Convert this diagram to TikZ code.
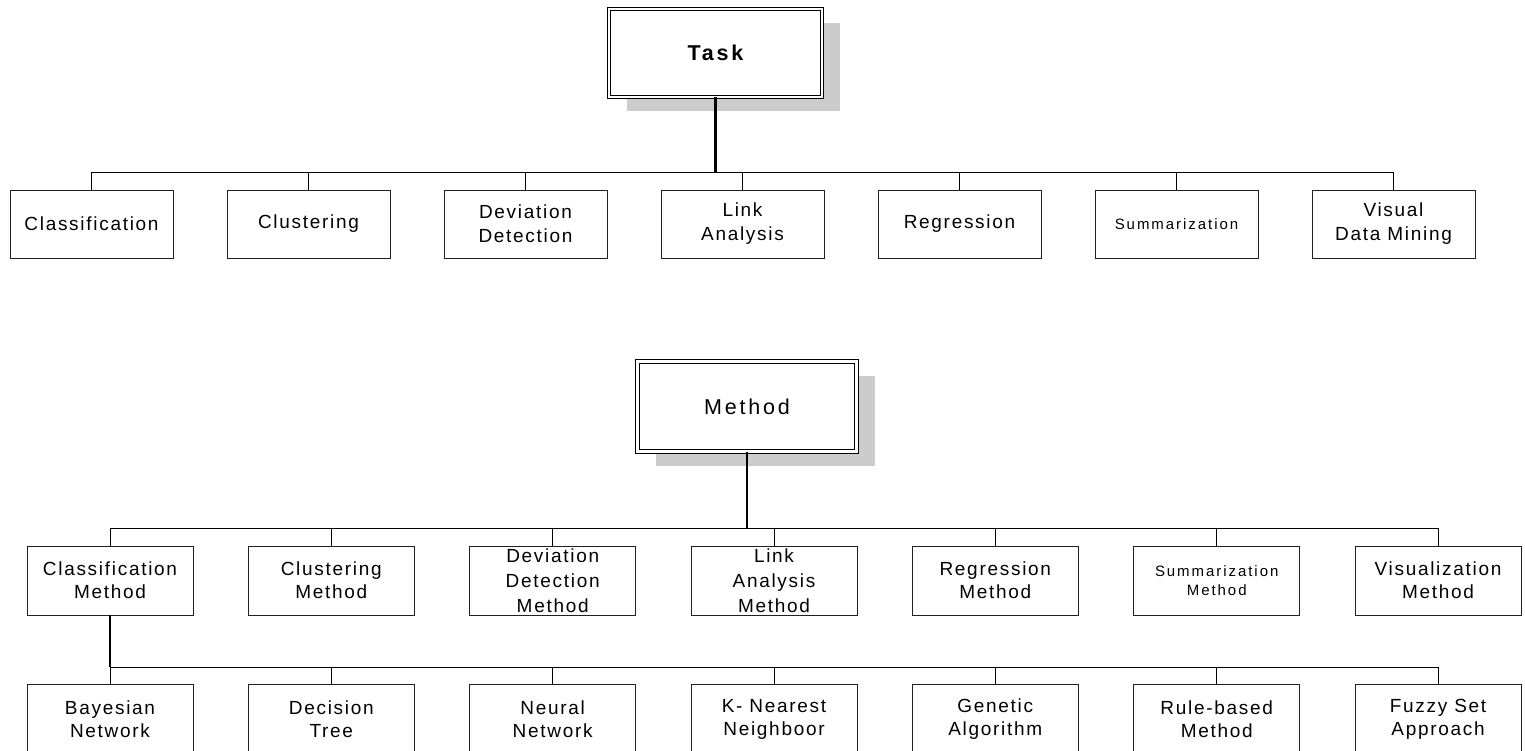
\documentclass[tikz,border=0pt]{standalone}
\usepackage{fontspec}
\setmainfont{Liberation Sans}
\newfontfamily\lsA{Liberation Sans}[LetterSpace=9]
\newfontfamily\lsB{Liberation Sans}[LetterSpace=13]
\newfontfamily\lsC{Liberation Sans}[LetterSpace=13]
\usetikzlibrary{shadows}
\definecolor{shadowgray}{HTML}{CCCCCC}
\definecolor{edgegray}{HTML}{202020}
\tikzset{
  x=1pt, y=-1pt,
  boxbase/.style={draw=edgegray, line width=0.9pt, fill=white, inner sep=0pt, align=center, text=black},
  toprow/.style={boxbase, minimum width=163pt, minimum height=68pt, font=\lsA\fontsize{19}{24}\selectfont},
  midrow/.style={boxbase, minimum width=166pt, minimum height=69pt, font=\lsA\fontsize{19}{23}\selectfont},
  botrow/.style={boxbase, minimum width=166pt, minimum height=70pt, font=\lsA\fontsize{19}{23}\selectfont},
  smalltxt/.style={font=\lsC\fontsize{15}{19}\selectfont},
  threeline/.style={font=\lsA\fontsize{19}{25}\selectfont},
  headbox/.style={draw=black, line width=1pt, double=white, double distance=2.6pt, inner sep=0pt,
    drop shadow={shadow xshift=18pt, shadow yshift=-14pt, fill=shadowgray, opacity=1}, fill=white},
  bus/.style={line width=1pt, black},
  stem/.style={line width=2.2pt, black}
}
\begin{document}
\begin{tikzpicture}
\useasboundingbox (0,0) rectangle (1525,751);
\clip (0,0) rectangle (1525,751);
% ---------- Task tree ----------
\node[headbox, minimum width=213pt, minimum height=88pt, font=\lsB\bfseries\fontsize{21.5}{25}\selectfont] (task) at (715.5,53) {Task};
\node[toprow] (t1) at (91.5,224) {Classification};
\node[toprow] (t2) at (308.5,224) {Clustering};
\node[toprow] (t3) at (525.5,224) {Deviation\\Detection};
\node[toprow] (t4) at (742.5,224) {Link\\Analysis};
\node[toprow] (t5) at (959.5,224) {Regression};
\node[toprow, smalltxt] (t6) at (1176.5,224) {Summarization};
\node[toprow] (t7) at (1393.5,224) {Visual\\Data Mining};
\coordinate (b1) at (715.5,173);
\foreach \i in {1,...,7} { \draw[bus] (t\i.north) |- (b1); }
\draw[stem] (task.south) -- (b1);
% ---------- Method tree ----------
\node[headbox, minimum width=219pt, minimum height=90pt, font=\lsB\fontsize{21.5}{25}\selectfont] (method) at (747,406.5) {Method};
\node[midrow] (m1) at (110,580.5) {Classification\\Method};
\node[midrow] (m2) at (331.3,580.5) {Clustering\\Method};
\node[midrow, threeline] (m3) at (552.7,580.5) {Deviation\\Detection\\Method};
\node[midrow, threeline] (m4) at (774,580.5) {Link\\Analysis\\Method};
\node[midrow] (m5) at (995.3,580.5) {Regression\\Method};
\node[midrow, smalltxt] (m6) at (1216.7,580.5) {Summarization\\Method};
\node[midrow] (m7) at (1438,580.5) {Visualization\\Method};
\coordinate (b2) at (747,528);
\foreach \i in {1,...,7} { \draw[bus] (m\i.north) |- (b2); }
\draw[stem] (method.south) -- (b2);
% ---------- Classification methods ----------
\node[botrow] (c1) at (110,719.5) {Bayesian\\Network};
\node[botrow] (c2) at (331.3,719.5) {Decision\\Tree};
\node[botrow] (c3) at (552.7,719.5) {Neural\\Network};
\node[botrow] (c4) at (774,719.5) {K- Nearest\\Neighboor};
\node[botrow] (c5) at (995.3,719.5) {Genetic\\Algorithm};
\node[botrow] (c6) at (1216.7,719.5) {Rule-based\\Method};
\node[botrow] (c7) at (1438,719.5) {Fuzzy Set\\Approach};
\coordinate (b3) at (110,667);
\foreach \i in {1,...,7} { \draw[bus] (c\i.north) |- (b3); }
\draw[stem] (m1.south) -- (b3);
\end{tikzpicture}
\end{document}
